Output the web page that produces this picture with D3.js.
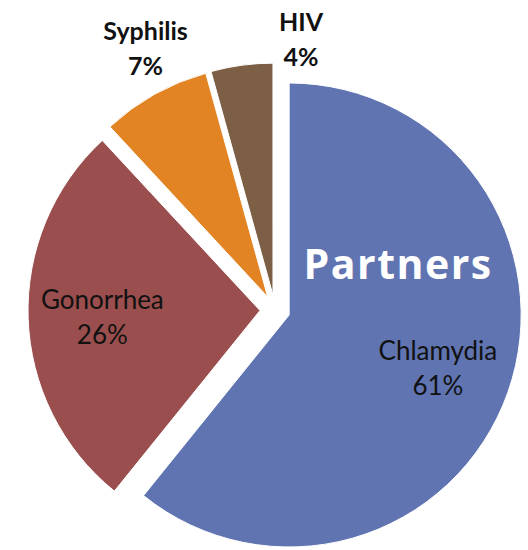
<!DOCTYPE html>
<html>
<head>
<meta charset="utf-8">
<script src="https://cdn.jsdelivr.net/npm/d3@7"></script>
<style>
  body { margin: 0; background: #fff; }
  svg { display: block; }
</style>
</head>
<body>
<svg id="chart"></svg>
<script>
const categories = ["Chlamydia", "Gonorrhea", "Syphilis", "HIV"];
const values = [60.8, 27.3, 7.6, 4.3];
const pctLabels = ["61%", "26%", "7%", "4%"];
const colors = ["#5f74b1", "#9a4e4e", "#e38424", "#7c5f44"];
const title = "Partners";

const width = 528, height = 550;
const cx = 275, cy = 310;
const radius = 232;
const explode = 15;
const lineGap = 35;

const svg = d3.select("#chart")
  .attr("width", width)
  .attr("height", height);

const pie = d3.pie().sort(null).value(d => d.value);
const arc = d3.arc().innerRadius(0).outerRadius(radius);

const slices = pie(categories.map((c, i) => ({
  name: c, value: values[i], pct: pctLabels[i], color: colors[i]
})));

// direction of a slice's bisector, scaled
function along(d, dist) {
  const a = (d.startAngle + d.endAngle) / 2;
  return [Math.sin(a) * dist, -Math.cos(a) * dist];
}

// every slice pulled out a little from the centre
slices.forEach(d => {
  const o = along(d, explode);
  d.vx = cx + o[0];
  d.vy = cy + o[1];
});

svg.append("g")
  .selectAll("path")
  .data(slices)
  .enter()
  .append("path")
  .attr("transform", d => `translate(${d.vx},${d.vy})`)
  .attr("d", arc)
  .attr("fill", d => d.data.color)
  .attr("stroke", "#fff")
  .attr("stroke-width", 1);

// Labels: big slices inside, small ones outside
const labels = svg.append("g")
  .attr("font-family", "Lato, 'Open Sans', sans-serif")
  .attr("fill", "#111");

slices.forEach(d => {
  const big = d.data.value > 20;
  let x, base2;
  if (big) {
    const p = along(d, radius * 0.68);
    x = d.vx + p[0];
    base2 = d.vy + p[1] + 28;
  } else if (d.data.name === "HIV") {
    // no room above the thin slice: pushed to the right of its top edge
    x = d.vx + 7 + 21;
    base2 = d.vy - radius + 3;
  } else {
    const p = along(d, radius * 1.08);
    x = d.vx + p[0];
    base2 = d.vy + p[1] - 3;
  }

  const t = labels.append("text")
    .attr("text-anchor", "middle")
    .style("font-size", big ? "26px" : "25px")
    .style("font-weight", big ? "normal" : "bold");

  t.append("tspan")
    .attr("x", x)
    .attr("y", base2 - lineGap)
    .text(d.data.name);

  t.append("tspan")
    .attr("x", x)
    .attr("y", base2)
    .text(d.data.pct);
});

// Chart title sitting inside the largest slice
const main = slices[0];
svg.append("text")
  .attr("x", main.vx + 109)
  .attr("y", main.vy - 36)
  .attr("text-anchor", "middle")
  .attr("fill", "#fff")
  .style("font-family", "'Open Sans', sans-serif")
  .style("font-weight", "bold")
  .style("font-size", "41px")
  .style("letter-spacing", "1.5px")
  .text(title);
</script>
</body>
</html>
